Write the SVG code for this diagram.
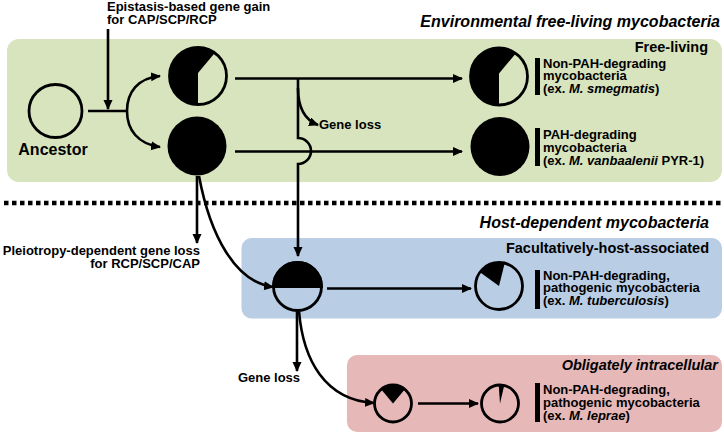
<svg xmlns="http://www.w3.org/2000/svg" xmlns:xlink="http://www.w3.org/1999/xlink" width="724" height="433" viewBox="0 0 724 433">
<style>
text{font-family:"Liberation Sans",Arial,Helvetica,sans-serif;font-weight:bold;fill:#000}
.t13{font-size:13px}
.t16{font-size:16px}
.hdr{font-size:16px;font-style:italic;text-anchor:end}
.sub{font-size:14.5px;text-anchor:end}
.it{font-style:italic}
.ln{fill:none;stroke:#000;stroke-width:2.6}
.arr{fill:none;stroke:#000;stroke-width:2.6;marker-end:url(#ah)}
.ring{fill:none;stroke:#000;stroke-width:2.8}
.bar{fill:#000}
</style>
<defs>
<marker id="ah" markerUnits="userSpaceOnUse" markerWidth="11" markerHeight="10" refX="9" refY="4.5" orient="auto" viewBox="0 0 11 10">
<path d="M0,0 L10,4.5 L0,9 Z" fill="#000"/>
</marker>
<g id="pieFree">
<path d="M0,-3 L16.75,-23.06 A28.5,28.5 0 1 0 0,28.5 Z" fill="#000"/>
<circle r="28.5" class="ring"/>
</g>
</defs>

<!-- backgrounds -->
<g id="regions">
<rect id="green-bg" x="7" y="39" width="715" height="143" rx="12" fill="#d7e4bd"/>
<rect id="blue-bg" x="241.5" y="238" width="480.5" height="80.5" rx="10" fill="#b9cde5"/>
<rect id="pink-bg" x="347" y="355" width="375" height="77" rx="10" fill="#e6b9b8"/>
<path id="divider" d="M4,203 L722,203" fill="none" stroke="#000" stroke-width="4.5" stroke-dasharray="4.5 3.5"/>
</g>

<g id="headers">
<text class="hdr" x="720" y="27">Environmental free-living mycobacteria</text>
<text class="sub" x="708" y="52">Free-living</text>
<text class="hdr" x="709" y="228">Host-dependent mycobacteria</text>
<text class="sub" x="709" y="253">Facultatively-host-associated</text>
<text class="sub" x="718" y="370" font-style="italic">Obligately intracellular</text>
</g>

<g id="connectors">
<path class="ln" d="M88,111 L127,111"/>
<path class="arr" d="M108,29 L108,109"/>
<path class="arr" d="M127,111 C127,92 138,78 160,76"/>
<path class="arr" d="M127,111 C127,130 138,144 160,147"/>
<path class="arr" d="M235,78.5 L462,78.5"/>
<path class="arr" d="M235,151.5 L462,151.5"/>
<path class="arr" d="M298,78.5 L298,138 A13,13 0 0 1 298,164 L298,256"/>
<path class="arr" d="M298,88 C298,108 305,120 318,125"/>
<path class="arr" d="M197,176 L197,243"/>
<path class="arr" d="M199,176 C210,235 235,282 273,287"/>
<path class="arr" d="M327,288.5 L471,288.5"/>
<path class="arr" d="M297,311 L297,371"/>
<path class="arr" d="M299,311 C303,360 325,400 374,403"/>
<path class="arr" d="M418,403.5 L478,403.5"/>
</g>

<g id="edge-labels">
<text class="t13" x="107" y="11">Epistasis-based gene gain</text>
<text class="t13" x="107" y="24">for CAP/SCP/RCP</text>
<text class="t13" x="319" y="129">Gene loss</text>
<text class="t13" x="200" y="255" text-anchor="end">Pleiotropy-dependent gene loss</text>
<text class="t13" x="200" y="268" text-anchor="end">for RCP/SCP/CAP</text>
<text class="t13" x="269" y="382" text-anchor="middle">Gene loss</text>
</g>

<g id="ancestor">
<circle cx="55.5" cy="111" r="26.5" class="ring"/>
<text class="t16" x="53" y="155" text-anchor="middle">Ancestor</text>
</g>

<g id="gain-nonpah">
<use xlink:href="#pieFree" href="#pieFree" x="198" y="76"/>
</g>

<g id="gain-pah">
<circle cx="197" cy="146" r="29.5" fill="#000"/>
</g>

<g id="smegmatis">
<use xlink:href="#pieFree" href="#pieFree" x="499" y="76.5"/>
<rect class="bar" x="535" y="58" width="5" height="37"/>
<text class="t13" x="543" y="67.5">Non-PAH-degrading<tspan x="543" dy="12.75">mycobacteria</tspan><tspan x="543" dy="12.75">(ex. </tspan><tspan class="it">M. smegmatis</tspan>)</text>
</g>

<g id="vanbaalenii">
<circle cx="500" cy="146.5" r="29.5" fill="#000"/>
<rect class="bar" x="535" y="128" width="5" height="38"/>
<text class="t13" x="543" y="139">PAH-degrading<tspan x="543" dy="12.75">mycobacteria</tspan><tspan x="543" dy="12.75">(ex. </tspan><tspan class="it">M. vanbaalenii</tspan> PYR-1)</text>
</g>

<g id="host-ancestor">
<path d="M273.5,286.5 A24,24 0 0 1 321.5,286.5 Z" fill="#000" stroke="#000" stroke-width="2.8"/>
<circle cx="297.5" cy="286.5" r="24" class="ring"/>
</g>

<g id="tuberculosis">
<path d="M499,286 L480,272.2 A23.5,23.5 0 0 1 504.7,263.2 Z" fill="#000"/>
<circle cx="499" cy="286" r="23.5" class="ring"/>
<rect class="bar" x="535" y="270" width="5" height="39"/>
<text class="t13" x="543" y="279.5">Non-PAH-degrading,<tspan x="543" dy="12.75">pathogenic mycobacteria</tspan><tspan x="543" dy="12.75">(ex. </tspan><tspan class="it">M. tuberculosis</tspan>)</text>
</g>

<g id="intracellular-ancestor">
<path d="M393,403.5 L381.1,389.3 A18.5,18.5 0 0 1 404.9,389.3 Z" fill="#000"/>
<circle cx="393" cy="403.5" r="18.5" class="ring"/>
</g>

<g id="leprae">
<path d="M500,403.5 L498.7,385 A18.5,18.5 0 0 1 504.2,385.5 Z" fill="#000"/>
<circle cx="500" cy="403.5" r="18.5" class="ring"/>
<rect class="bar" x="535" y="383" width="5" height="39"/>
<text class="t13" x="543" y="394">Non-PAH-degrading,<tspan x="543" dy="12.75">pathogenic mycobacteria</tspan><tspan x="543" dy="12.75">(ex. </tspan><tspan class="it">M. leprae</tspan>)</text>
</g>
</svg>
